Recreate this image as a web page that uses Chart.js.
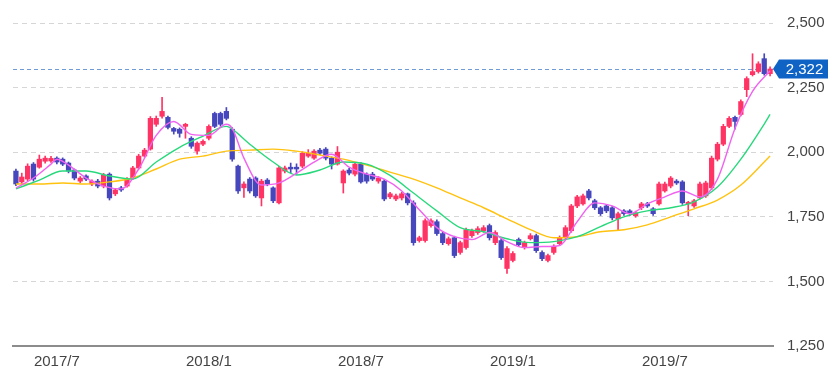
<!DOCTYPE html>
<html>
<head>
<meta charset="utf-8">
<script src="https://cdn.jsdelivr.net/npm/chart.js@4.4.1/dist/chart.umd.min.js"></script>
<style>
    html, body { margin: 0; padding: 0; background: #fff; }
    #wrap { width: 840px; height: 389px; position: relative; }
</style>
</head>
<body>
<div id="wrap"><canvas id="chart"></canvas></div>
<script>
// weekly candles, 2017/5 .. 2019/11
const opens  = [1927,1885,1896,1954,1942,1965,1966,1977,1973,1958,1931,1888,1908,1877,1888,1869,1915,1839,1862,1869,
                1900,1939,1985,2012,2108,2139,2135,2092,2089,2100,2054,2004,2031,2054,2150,2150,2158,2089,1946,1862,
                1896,1900,1823,1892,1862,1804,1927,1942,1942,1946,1985,1977,2008,2012,1977,1954,1881,1931,1915,1954,
                1915,1915,1888,1888,1827,1819,1823,1839,1804,1658,1658,1716,1731,1685,1646,1669,1612,1631,1677,1689,
                1696,1716,1650,1658,1550,1581,1662,1631,1665,1677,1612,1581,1612,1646,1669,1696,1792,1800,1850,1812,
                1785,1792,1785,1742,1773,1773,1754,1785,1800,1781,1800,1850,1869,1888,1885,1800,1792,1823,1831,1862,
                1973,2031,2100,2135,2146,2242,2300,2312,2362,2304];
const highs  = [1935,1919,1955,1960,1989,1985,1984,1982,1978,1962,1935,1906,1912,1893,1895,1918,1920,1860,1868,1902,
                1945,1992,2015,2138,2140,2212,2140,2096,2094,2112,2060,2040,2048,2106,2155,2155,2173,2095,1950,1885,
                1902,1905,1895,1898,1866,1945,1946,1958,1955,2002,2010,2010,2015,2018,1982,2022,1932,1938,1960,1960,
                1920,1922,1906,1894,1845,1838,1845,1842,1812,1675,1742,1742,1738,1690,1672,1675,1656,1706,1702,1712,
                1716,1722,1696,1665,1635,1615,1668,1656,1685,1683,1618,1606,1642,1676,1716,1798,1833,1838,1856,1818,
                1790,1798,1790,1768,1778,1778,1772,1806,1806,1786,1884,1884,1906,1894,1890,1810,1818,1884,1888,1985,
                2038,2108,2138,2140,2203,2292,2381,2350,2381,2330];
const lows   = [1870,1877,1890,1888,1938,1958,1960,1955,1948,1920,1893,1882,1890,1870,1862,1862,1815,1832,1848,1865,
                1895,1935,1980,2008,2100,2132,2090,2070,2058,2054,2015,1992,2025,2048,2095,2100,2125,1965,1840,1825,
                1842,1825,1792,1870,1805,1800,1920,1920,1915,1940,1980,1972,1990,1970,1935,1950,1842,1912,1908,1880,
                1880,1890,1880,1812,1820,1812,1815,1796,1640,1652,1652,1710,1678,1642,1640,1592,1605,1625,1670,1682,
                1690,1660,1642,1585,1531,1575,1635,1625,1660,1612,1580,1575,1605,1640,1662,1690,1785,1795,1815,1778,
                1755,1766,1738,1700,1755,1755,1748,1778,1786,1755,1795,1845,1862,1875,1798,1754,1786,1818,1825,1855,
                1966,2025,2095,2089,2140,2215,2295,2306,2298,2295];
const closes = [1877,1904,1946,1896,1973,1977,1976,1962,1954,1927,1900,1900,1896,1888,1869,1912,1823,1854,1854,1896,
                1939,1985,2008,2131,2131,2158,2096,2081,2073,2108,2023,2035,2042,2100,2100,2108,2131,1973,1850,1877,
                1850,1831,1888,1877,1812,1939,1939,1935,1935,1996,1996,2004,1996,1977,1954,2000,1927,1919,1954,1885,
                1888,1896,1900,1819,1839,1831,1839,1804,1650,1669,1735,1735,1685,1650,1665,1600,1650,1700,1696,1704,
                1708,1669,1689,1592,1627,1608,1642,1650,1677,1619,1588,1600,1635,1669,1708,1792,1827,1831,1823,1785,
                1762,1773,1746,1762,1762,1762,1765,1800,1792,1762,1877,1877,1900,1881,1804,1804,1812,1877,1881,1977,
                2031,2100,2131,2119,2196,2285,2312,2342,2304,2322];

// moving averages: [week index, value]
const maShort = [[0,1861],[3,1900],[6,1954],[7,1973],[9,1950],[12,1900],[15,1869],[18,1858],[21,1935],[24,2065],
                 [27,2119],[30,2069],[33,2065],[36,2108],[37,2092],[39,1977],[42,1873],[45,1881],[48,1919],[51,1962],
                 [54,1992],[57,1942],[60,1915],[63,1896],[66,1850],[69,1777],[72,1708],[75,1673],[78,1662],[81,1689],
                 [84,1654],[87,1631],[90,1635],[93,1639],[96,1731],[99,1804],[102,1792],[105,1762],[108,1800],[111,1827],
                 [114,1850],[117,1827],[120,1896],[123,2092],[126,2235],[129,2315]];
const maMid   = [[0,1858],[4,1892],[8,1927],[12,1927],[16,1908],[20,1896],[24,1962],[28,2019],[32,2062],[36,2100],
                 [37,2089],[40,2031],[44,1962],[48,1912],[52,1931],[56,1962],[60,1954],[64,1910],[68,1842],[72,1773],
                 [76,1708],[80,1692],[84,1665],[88,1650],[92,1654],[96,1673],[100,1712],[104,1750],[108,1773],[112,1785],
                 [116,1808],[120,1865],[124,1973],[128,2109],[129,2146]];
const maLong  = [[0,1877],[4,1877],[8,1881],[12,1877],[16,1885],[20,1900],[24,1935],[28,1973],[32,1985],[36,2004],
                 [40,2008],[44,2012],[48,2004],[52,1989],[56,1973],[60,1950],[64,1923],[68,1896],[72,1862],[76,1823],
                 [80,1785],[84,1742],[88,1700],[92,1669],[96,1673],[100,1692],[104,1700],[108,1719],[112,1750],[116,1781],
                 [120,1815],[124,1873],[128,1962],[129,1985]];

const tickIdx  = [7, 33, 59, 85, 111];
const tickText = ['2017/7', '2018/1', '2018/7', '2019/1', '2019/7'];
const yTicks   = [1250, 1500, 1750, 2000, 2250, 2500];

const UP = '#ff3464';
const DOWN = '#4747bd';

const labels = closes.map((_, i) => i);
const candleColor = closes.map((c, i) => c >= opens[i] ? UP : DOWN);
const wicks = lows.map((l, i) => [l, highs[i]]);
const bodies = opens.map((o, i) => [o, closes[i]]);

function toSeries(pairs) {
    const arr = new Array(closes.length).fill(null);
    pairs.forEach(([i, v]) => { arr[i] = v; });
    return arr;
}

const fmt = (v) => v.toLocaleString('en-US');

const lastPriceLine = {
    id: 'lastPriceLine',
    beforeDatasetsDraw(chart) {
        const { ctx, chartArea, scales } = chart;
        const y = Math.round(scales.y.getPixelForValue(closes[closes.length - 1])) + 0.5;
        ctx.save();
        ctx.strokeStyle = '#6f9bd6';
        ctx.lineWidth = 1;
        ctx.setLineDash([4, 3]);
        ctx.beginPath();
        ctx.moveTo(chartArea.left, y);
        ctx.lineTo(chartArea.right, y);
        ctx.stroke();
        ctx.restore();
    },
    afterDraw(chart) {
        const { ctx, chartArea, scales } = chart;
        const last = closes[closes.length - 1];
        const y = scales.y.getPixelForValue(last);
        const tip = chartArea.right;
        const left = tip + 6, right = 828, h = 19;
        ctx.save();
        ctx.fillStyle = '#0f63c4';
        ctx.beginPath();
        ctx.moveTo(tip, y);
        ctx.lineTo(left, y - h / 2);
        ctx.lineTo(right, y - h / 2);
        ctx.lineTo(right, y + h / 2);
        ctx.lineTo(left, y + h / 2);
        ctx.closePath();
        ctx.fill();
        ctx.fillStyle = '#fff';
        ctx.font = '15px "Liberation Sans", Arial, sans-serif';
        ctx.textAlign = 'center';
        ctx.textBaseline = 'middle';
        ctx.fillText(fmt(last), (left + right) / 2 + 1, y + 1);
        ctx.restore();
    }
};

new Chart(document.getElementById('chart'), {
    data: {
        labels: labels,
        datasets: [
            {
                type: 'line', label: 'MA short', data: toSeries(maShort), order: 1,
                borderColor: '#f062f0', borderWidth: 1.4, pointRadius: 0,
                spanGaps: true, cubicInterpolationMode: 'monotone'
            },
            {
                type: 'line', label: 'MA mid', data: toSeries(maMid), order: 2,
                borderColor: '#28d97c', borderWidth: 1.4, pointRadius: 0,
                spanGaps: true, cubicInterpolationMode: 'monotone'
            },
            {
                type: 'line', label: 'MA long', data: toSeries(maLong), order: 3,
                borderColor: '#ffc20e', borderWidth: 1.4, pointRadius: 0,
                spanGaps: true, cubicInterpolationMode: 'monotone'
            },
            {
                type: 'bar', label: 'body', data: bodies, order: 4,
                backgroundColor: candleColor, barThickness: 4.6, minBarLength: 1.5, grouped: false
            },
            {
                type: 'bar', label: 'wick', data: wicks, order: 5,
                backgroundColor: candleColor, barThickness: 1, grouped: false
            }
        ]
    },
    options: {
        responsive: true,
        maintainAspectRatio: false,
        animation: false,
        layout: { padding: { top: 21, left: 13, right: 0, bottom: 0 } },
        plugins: {
            legend: { display: false },
            tooltip: { enabled: false }
        },
        scales: {
            x: {
                type: 'category',
                offset: true,
                grid: { display: true, drawOnChartArea: false, drawTicks: false },
                border: { display: true, color: '#8c8c8c', width: 2 },
                afterFit: (axis) => { axis.height = 43; },
                ticks: {
                    autoSkip: false,
                    maxRotation: 0,
                    padding: 7,
                    color: '#444',
                    font: { family: '"Liberation Sans", Arial, sans-serif', size: 15 },
                    callback: (value, index) => {
                        const k = tickIdx.indexOf(index);
                        return k >= 0 ? tickText[k] : '';
                    }
                }
            },
            y: {
                position: 'right',
                min: yTicks[0],
                max: yTicks[yTicks.length - 1],
                afterBuildTicks: (axis) => { axis.ticks = yTicks.map(v => ({ value: v })); },
                afterFit: (axis) => { axis.width = 67; },
                grid: {
                    color: (ctx) => ctx.tick && ctx.tick.value === yTicks[0] ? 'transparent' : '#d6d6d6',
                    drawTicks: false
                },
                border: { display: false, dash: [5, 4] },
                ticks: {
                    padding: 14,
                    color: '#444',
                    font: { family: '"Liberation Sans", Arial, sans-serif', size: 15 },
                    callback: (value) => fmt(value)
                }
            }
        }
    },
    plugins: [lastPriceLine]
});
</script>
</body>
</html>
